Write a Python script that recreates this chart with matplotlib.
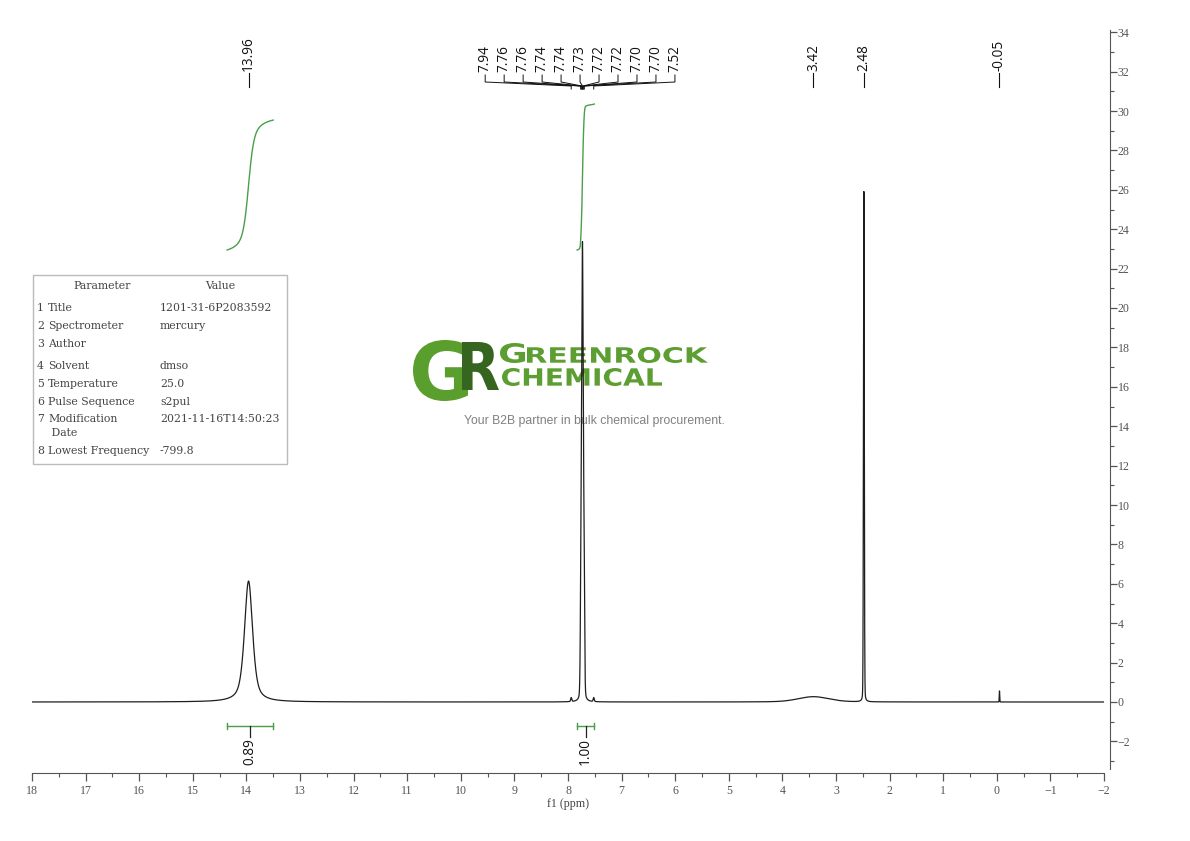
import numpy as np
import matplotlib
matplotlib.use('Agg')
import matplotlib.pyplot as plt
from matplotlib.textpath import TextPath
from matplotlib.patches import PathPatch, Rectangle
from matplotlib.font_manager import FontProperties
from matplotlib.transforms import Affine2D

# ---------------- data ----------------
# line-shape components (ppm, height, half-width, Lorentz fraction)
comp_center = [13.96, 7.94, 7.755, 7.73, 7.705, 7.52, 3.42, 2.48, -0.05]
comp_height = [6.14, 0.20, 8.0, 21.3, 8.0, 0.20, 0.27, 25.9, 0.56]
comp_hwhm = [0.09, 0.012, 0.014, 0.014, 0.014, 0.012, 0.34, 0.009, 0.005]
comp_eta = [0.6, 0.2, 0.15, 0.15, 0.15, 0.2, 0.3, 0.12, 0.1]

single_labels = [13.96, 3.42, 2.48, -0.05]
multi_labels = [7.94, 7.76, 7.76, 7.74, 7.74, 7.73, 7.72, 7.72, 7.70, 7.70, 7.52]

integ_hi = [14.36, 7.83]
integ_lo = [13.50, 7.51]
integ_val = [0.89, 1.00]

x_ticks = list(range(18, -3, -1))
y_ticks = list(range(-2, 35, 2))

table_params = ["Title", "Spectrometer", "Author", "Solvent", "Temperature",
                "Pulse Sequence", "Modification\n Date", "Lowest Frequency"]
table_values = ["1201-31-6P2083592", "mercury", "", "dmso", "25.0",
                "s2pul", "2021-11-16T14:50:23", "-799.8"]

# ---------------- figure ----------------
W, H = 1190, 841
fig = plt.figure(figsize=(W / 100, H / 100), dpi=100)
fig.patch.set_facecolor('white')


def py2v(py):
    return (702 - py) / 19.7


ax = fig.add_axes([32 / W, (H - 773) / H, 1072 / W, (773 - 12) / H])
ax.set_facecolor('none')

ppm = np.linspace(18, -2, 40001)
spec = np.zeros_like(ppm)
for c, h, w, eta in zip(comp_center, comp_height, comp_hwhm, comp_eta):
    d = (ppm - c) / w
    spec += h * (eta / (1 + d ** 2) + (1 - eta) * np.exp(-np.log(2) * d ** 2))
ax.plot(ppm, spec, color='#1e1e1e', lw=0.9, zorder=3)

green = '#4a9e4a'
# integral curves and bars
base_v = py2v(250)
unit = (py2v(104) - py2v(250))
vb = py2v(726)
for hi, lo, val in zip(integ_hi, integ_lo, integ_val):
    m = (ppm <= hi) & (ppm >= lo)
    seg = spec[m]
    cum = np.cumsum(seg)
    cum = cum / cum[-1]
    ax.plot(ppm[m], base_v + val * unit * cum, color=green, lw=1.0, zorder=2, clip_on=False)
    ax.plot([hi, lo], [vb, vb], color=green, lw=1.0, clip_on=False)
    for e in (hi, lo):
        ax.plot([e, e], [vb - 0.16, vb + 0.16], color=green, lw=1.0, clip_on=False)
    cx = (hi + lo) / 2
    ax.plot([cx, cx], [vb, py2v(737)], color='#222', lw=0.9, clip_on=False)
    ax.text(cx, py2v(738), f'{val:.2f}', rotation=90, ha='center', va='top',
            fontsize=9.8, family='Open Sans', color='#111')

# peak labels
for p in single_labels:
    ax.plot([p, p], [py2v(87), py2v(73)], color='#111', lw=0.8, clip_on=False)
    ax.text(p, py2v(71), f'{p:.2f}', rotation=90, ha='center', va='bottom',
            fontsize=9.8, family='Open Sans', color='#111', clip_on=False)

n = len(multi_labels)
for i, p in enumerate(multi_labels):
    lx = 7.775 + ((n - 1) / 2 - i) * 0.354
    ax.plot([lx, lx, p, p], [py2v(75), py2v(82), py2v(86), py2v(89)],
            color='#111', lw=0.7, clip_on=False)
    ax.text(lx, py2v(72), f'{p:.2f}', rotation=90, ha='center', va='bottom',
            fontsize=9.8, family='Open Sans', color='#111', clip_on=False)

# axes styling
ax.set_xlim(18, -2)
ax.set_ylim(py2v(773), py2v(12))
for s in ('top', 'left'):
    ax.spines[s].set_visible(False)
ax.spines['bottom'].set_color('#555')
ax.spines['right'].set_color('#555')
ax.spines['right'].set_position(('outward', 4))
ax.spines['right'].set_bounds(-3.4, 34.1)
ax.yaxis.tick_right()
ax.set_xticks(x_ticks)
ax.set_xticks([t - 0.5 for t in x_ticks[:-1]], minor=True)
ax.set_yticks(y_ticks)
ax.set_yticks(list(range(-3, 34, 2)), minor=True)
ax.tick_params(axis='x', which='major', length=6, width=0.9, color='#555', labelsize=8.6,
               labelcolor='#555', pad=3)
ax.tick_params(axis='x', which='minor', length=3, width=0.8, color='#555')
ax.tick_params(axis='y', which='major', length=5, width=0.9, color='#555', labelsize=8.6,
               labelcolor='#555', pad=1)
ax.tick_params(axis='y', which='minor', length=3, width=0.8, color='#555')
for lab in ax.get_xticklabels() + ax.get_yticklabels():
    lab.set_family('Liberation Serif')
ax.set_xlabel('f1 (ppm)', family='Liberation Serif', fontsize=8.6, color='#444', labelpad=0)


# ---------------- watermark logo ----------------
def box_text(s, x0, x1, y_top, y_bot, color, family='DejaVu Sans', weight='bold'):
    tp = TextPath((0, 0), s, size=100, prop=FontProperties(family=family, weight=weight))
    bb = tp.get_extents()
    sx = (x1 - x0) / bb.width / W
    sy = (y_bot - y_top) / bb.height / H
    tr = (Affine2D().translate(-bb.x0, -bb.y0).scale(sx, sy)
          .translate(x0 / W, 1 - y_bot / H) + fig.transFigure)
    patch = PathPatch(tp, transform=tr, facecolor=color, edgecolor='none', zorder=-1)
    fig.add_artist(patch)


box_text('G', 413, 468, 340, 401, '#5a9e2e')
box_text('R', 462, 499, 342, 390, '#35651f')
box_text('G', 500, 525, 343, 363, '#5c9e31')
box_text('REENROCK', 527, 708, 347, 363, '#5c9e31')
box_text('CHEMICAL', 502, 662, 368, 386, '#5c9e31')
fig.text(594.5 / W, 1 - 421 / H, 'Your B2B partner in bulk chemical procurement.',
         ha='center', va='center', fontsize=8.8, family='Liberation Sans', color='#808080',
         zorder=-1)

# ---------------- parameter table ----------------
fig.add_artist(Rectangle((33 / W, 1 - 464 / H), (287 - 33) / W, (464 - 275) / H,
                         transform=fig.transFigure, facecolor='white', edgecolor='#bbbbbb',
                         lw=1.0, zorder=5))
tkw = dict(fontsize=7.8, family='DejaVu Serif', color='#444', va='center', zorder=6)
fig.text(102 / W, 1 - 286 / H, 'Parameter', ha='center', **tkw)
fig.text(220 / W, 1 - 286 / H, 'Value', ha='center', **tkw)
row_y = [308, 326, 344, 366, 384, 402, 419, 451]
for i, (pname, pval, yy) in enumerate(zip(table_params, table_values, row_y)):
    fig.text(37 / W, 1 - yy / H, str(i + 1), ha='left', **tkw)
    lines = pname.split('\n')
    fig.text(48 / W, 1 - yy / H, lines[0], ha='left', **tkw)
    if len(lines) > 1:
        fig.text(48 / W, 1 - (yy + 14) / H, lines[1], ha='left', **tkw)
    fig.text(160 / W, 1 - yy / H, pval, ha='left', **tkw)

fig.savefig('out.png', dpi=100)
